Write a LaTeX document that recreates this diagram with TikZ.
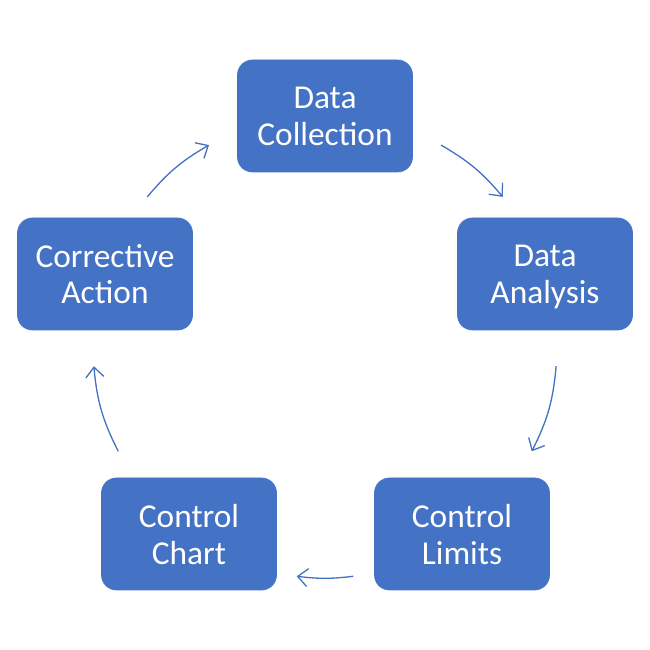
\documentclass[tikz,border=0pt]{standalone}
\usepackage{fontspec}
\setmainfont{Carlito}
\usepackage{xcolor}
\usepackage{tikz}
\usetikzlibrary{arrows.meta,calc}
\definecolor{boxblue}{HTML}{4472C4}
\tikzset{
  box/.style={rectangle, draw=boxblue, fill=boxblue, rounded corners=0.3cm,
              minimum width=3.5cm, minimum height=2.24cm, align=center,
              text=white, text depth=0pt, font=\fontsize{19}{21}\selectfont},
  arr/.style={-{Straight Barb[length=2mm,width=3.6mm]}, draw=boxblue, line width=0.75pt}
}
\begin{document}
\begin{tikzpicture}
  \useasboundingbox (0,0) rectangle (13,13);
  \coordinate (o) at (6.5,6.08);
  \node[box] (dc) at (6.5,10.68) {Data\\Collection};
  \node[box] (da) at (10.9,7.52) {Data\\Analysis};
  \node[box] (cl) at (9.24,2.32) {Control\\Limits};
  \node[box] (cc) at (3.78,2.32) {Control\\Chart};
  \node[box] (ca) at (2.1,7.52) {Corrective\\Action};
  % arrow ends on the cycle circle
  \coordinate (a1) at ($(o)+(60:4.64)$);   \coordinate (b1) at ($(o)+(40:4.64)$);
  \coordinate (a2) at ($(o)+(-5:4.64)$);   \coordinate (b2) at ($(o)+(-27:4.64)$);
  \coordinate (a3) at ($(o)+(-83:4.64)$);  \coordinate (b3) at ($(o)+(-97:4.64)$);
  \coordinate (a4) at ($(o)+(-153:4.64)$); \coordinate (b4) at ($(o)+(-175:4.64)$);
  \coordinate (a5) at ($(o)+(140:4.64)$);  \coordinate (b5) at ($(o)+(120:4.64)$);
  \draw[arr] (a1) to[bend left=10] (b1);
  \draw[arr] (a2) to[bend left=11] (b2);
  \draw[arr] (a3) to[bend left=7] (b3);
  \draw[arr] (a4) to[bend left=11] (b4);
  \draw[arr] (a5) to[bend left=10] (b5);
\end{tikzpicture}
\end{document}
